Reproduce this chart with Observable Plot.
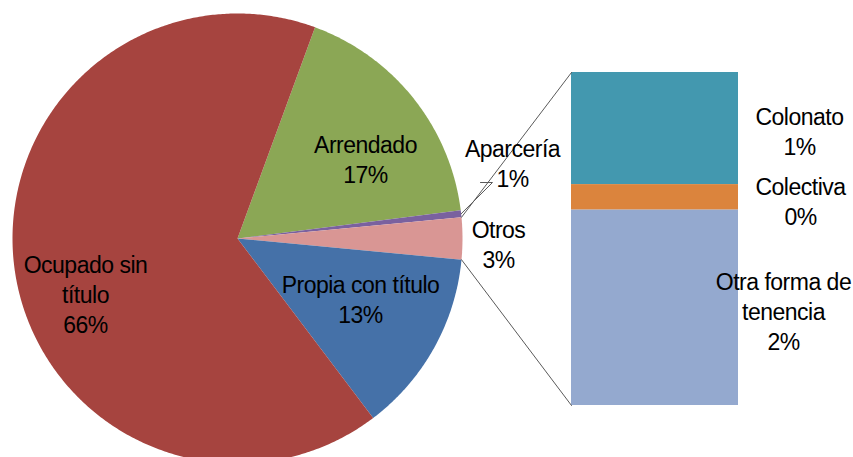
<!DOCTYPE html>
<html>
<head>
<meta charset="utf-8">
<script src="https://cdn.jsdelivr.net/npm/d3@7"></script>
<script src="https://cdn.jsdelivr.net/npm/@observablehq/plot@0.6"></script>
<style>
  html, body { margin: 0; padding: 0; background: #fff; }
  svg text { font-family: "Liberation Sans", Arial, sans-serif; letter-spacing: -0.5px; }
</style>
</head>
<body>
<div id="chart"></div>
<script>
// ---- data ----
const pieNames = ["Arrendado", "Aparcería", "Otros", "Propia con título", "Ocupado sin título"];
const pieValues = [17.4, 0.5, 3.0, 13.2, 65.9];
const pieLabels = ["Arrendado\n17%", "Aparcería\n1%", "Otros\n3%", "Propia con título\n13%", "Ocupado sin\ntítulo\n66%"];
const barNames = ["Colonato", "Colectiva", "Otra forma de tenencia"];
const barValues = [1.01, 0.23, 1.76];
const barLabels = ["Colonato\n1%", "Colectiva\n0%", "Otra forma de\ntenencia\n2%"];

// ---- styles / layout ----
const pieColors = ["#8BA755", "#7A619F", "#D99694", "#4571A8", "#A6443F"];
const barColors = ["#4398AF", "#DB843D", "#94A9CF"];
const W = 853, H = 457;
const cx = 237, cy = 238, R = 225;
const barX1 = 571, barX2 = 738, barTop = 72, barBottom = 405;
const pieLabelPos = [[365, 158], [512, 162], [498, 243], [360, 298], [85, 293]];
const barLabelPos = [[799, 130], [800, 200], [783, 310]];

// ---- pie geometry from values ----
const total = d3.sum(pieValues);
const otrosIdx = 2;
const deg = v => v / total * 360;
// rotate so the "Otros" slice is centred at 3 o'clock
const before = d3.sum(pieValues.slice(0, otrosIdx));
let start = 90 - deg(pieValues[otrosIdx]) / 2 - deg(before);
const slices = [];
pieValues.forEach((v, i) => {
  const a0 = start, a1 = start + deg(v);
  const pts = [{x: cx, y: cy}];
  const n = Math.max(2, Math.ceil((a1 - a0) / 0.5));
  for (let k = 0; k <= n; k++) {
    const a = (a0 + (a1 - a0) * k / n) * Math.PI / 180;
    pts.push({x: cx + R * Math.sin(a), y: cy - R * Math.cos(a)});
  }
  pts.push({x: cx, y: cy});
  slices.push({name: pieNames[i], color: pieColors[i], a0, a1, pts});
  start = a1;
});
const pt = a => ({x: cx + R * Math.sin(a * Math.PI / 180), y: cy - R * Math.cos(a * Math.PI / 180)});

// ---- bar geometry from values ----
const barTotal = d3.sum(barValues);
const by = d3.scaleLinear([0, barTotal], [barTop, barBottom]);
let acc = 0;
const barRects = barValues.map((v, i) => {
  const r = {name: barNames[i], color: barColors[i], x1: barX1, x2: barX2, y1: by(acc), y2: by(acc + v)};
  acc += v;
  return r;
});

// connectors
const os = slices[otrosIdx];
const pA = pt(os.a0), pB = pt(os.a1);
const connectors = [
  {id: "top", pts: [pA, {x: barX1, y: barTop}]},
  {id: "bot", pts: [pB, {x: barX1, y: barBottom}]}
];
// Aparcería leader line
const ap = slices[1];
const apPt = pt((ap.a0 + ap.a1) / 2);
const leader = [apPt, {x: 492, y: 182}, {x: 480, y: 182}];

const labels = [
  ...pieLabels.map((t, i) => ({t, x: pieLabelPos[i][0], y: pieLabelPos[i][1]})),
  ...barLabels.map((t, i) => ({t, x: barLabelPos[i][0], y: barLabelPos[i][1]}))
];

const plot = Plot.plot({
  width: W, height: H,
  margin: 0,
  x: {domain: [0, W], range: [0, W], axis: null},
  y: {domain: [0, H], range: [0, H], axis: null},
  style: {background: "#fff", overflow: "hidden"},
  marks: [
    ...slices.map(s => Plot.line(s.pts, {x: "x", y: "y", fill: s.color, stroke: "none", curve: "linear-closed"})),
    Plot.rect(barRects, {x1: "x1", x2: "x2", y1: "y1", y2: "y2", fill: "color"}),
    ...connectors.map(c => Plot.line(c.pts, {x: "x", y: "y", stroke: "#5a5a5a", strokeWidth: 1})),
    Plot.line(leader, {x: "x", y: "y", stroke: "#5a5a5a", strokeWidth: 1}),
    Plot.text(labels, {x: "x", y: "y", text: "t", fill: "#000", fontSize: 23, lineHeight: 1.3, textAnchor: "middle", lineAnchor: "middle"})
  ]
});
document.getElementById("chart").appendChild(plot);
</script>
</body>
</html>
